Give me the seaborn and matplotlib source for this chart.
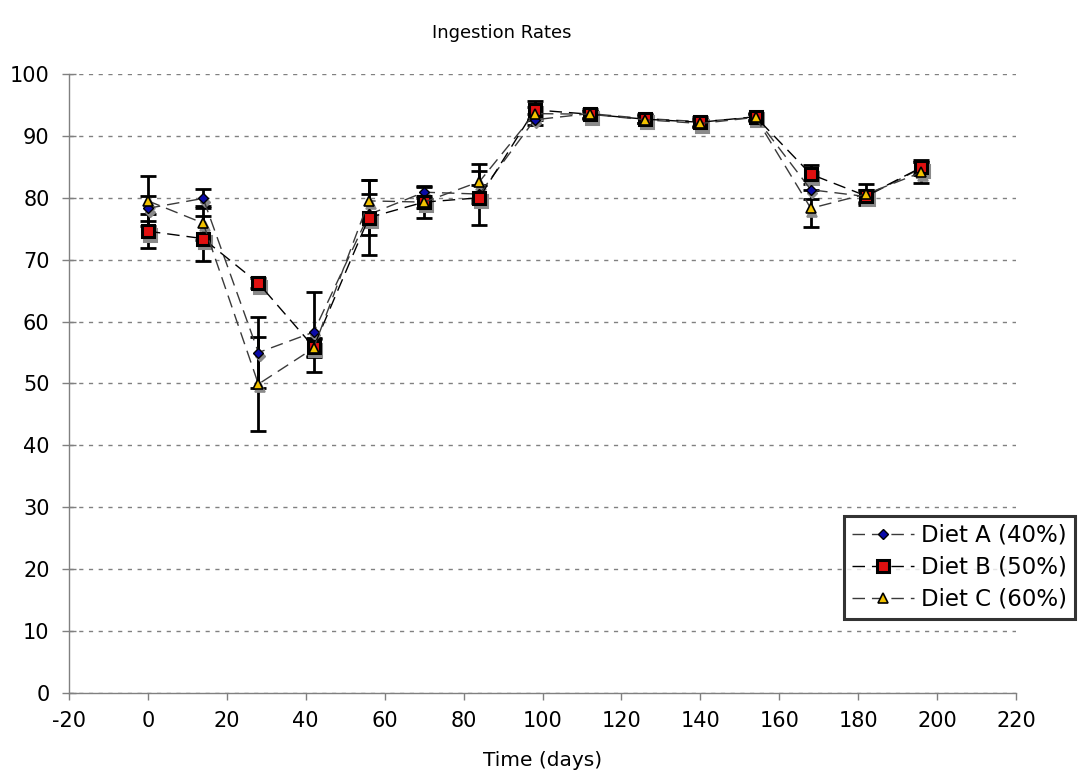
import numpy as np
import pandas as pd
import matplotlib
matplotlib.use("Agg")
import matplotlib.pyplot as plt
import matplotlib.transforms as mtransforms
import seaborn as sns

# Sampling days
days = [0, 14, 28, 42, 56, 70, 84, 98, 112, 126, 140, 154, 168, 182, 196]

# Mean ingestion rate per diet
diet_a = [78.3, 79.9, 55.0, 58.3, 77.3, 80.9, 80.6, 92.6, 93.6, 92.8, 92.3, 93.0, 81.3, 80.2, 84.8]
diet_b = [74.6, 73.4, 66.2, 55.9, 76.8, 79.3, 80.0, 94.2, 93.5, 92.7, 92.2, 93.1, 83.8, 80.3, 84.9]
diet_c = [79.5, 75.9, 49.9, 55.7, 79.5, 79.3, 82.6, 93.6, 93.5, 92.6, 92.0, 93.0, 78.3, 80.6, 84.1]

# Standard errors
err_a = [2.0, 1.5, 5.8, 6.5, 3.3, 1.0, 1.5, 0.9, 0.8, 0.8, 0.8, 0.6, 1.5, 1.0, 1.0]
err_b = [2.7, 3.6, 0.8, 1.5, 6.0, 2.5, 4.4, 1.4, 0.6, 0.6, 0.6, 0.6, 1.5, 1.0, 1.2]
err_c = [4.0, 2.7, 7.6, 1.5, 3.3, 1.0, 2.9, 1.0, 0.6, 0.6, 0.6, 0.5, 3.0, 1.7, 1.7]

labels = ["Diet A (40%)", "Diet B (50%)", "Diet C (60%)"]

sns.set_theme(style="white")
plt.rcParams["font.family"] = ["DejaVu Sans"]
plt.rcParams["axes.unicode_minus"] = False
plt.rcParams["text.color"] = "black"
plt.rcParams["axes.labelcolor"] = "black"
plt.rcParams["xtick.color"] = "black"
plt.rcParams["ytick.color"] = "black"

rows = []
for lab, vals, errs in zip(labels, [diet_a, diet_b, diet_c], [err_a, err_b, err_c]):
    for d, v, e in zip(days, vals, errs):
        rows.append({"day": d, "rate": v, "err": e, "diet": lab})
df = pd.DataFrame(rows)

fig = plt.figure(figsize=(10.78, 7.82), dpi=100)
ax = fig.add_axes([0.064, 0.1138, 0.8785, 0.7916])

styles = {
    "Diet A (40%)": dict(marker="D", ms=5.5, mfc="#0a0aa8", mec="black", mew=1.0, lc="#3a3a3a"),
    "Diet B (50%)": dict(marker="s", ms=8.0, mfc="#e01010", mec="black", mew=2.2, lc="black"),
    "Diet C (60%)": dict(marker="^", ms=6.5, mfc="#f2c200", mec="black", mew=1.2, lc="#3a3a3a"),
}

# error bars below everything else
for lab in labels:
    sub = df[df["diet"] == lab]
    ax.errorbar(sub["day"], sub["rate"], yerr=sub["err"], fmt="none",
                ecolor="black", elinewidth=2, capsize=6, capthick=2, zorder=2)

shadow = mtransforms.offset_copy(ax.transData, fig=fig, x=1.2, y=-2.4, units="points")

for lab in labels:
    sub = df[df["diet"] == lab]
    st = styles[lab]
    # drop shadow under markers
    ax.plot(sub["day"], sub["rate"], linestyle="none", marker=st["marker"],
            ms=st["ms"], mfc="#8a8a8a", mec="#8a8a8a", mew=st["mew"],
            transform=shadow, zorder=2.5)
    sns.lineplot(data=sub, x="day", y="rate", ax=ax, label=lab,
                 color=st["lc"], lw=1.0, dashes=False, linestyle=(0, (9, 5)),
                 marker=st["marker"], markersize=st["ms"],
                 markerfacecolor=st["mfc"], markeredgecolor=st["mec"],
                 markeredgewidth=st["mew"], zorder=3, errorbar=None)

ax.set_xlim(-20, 220)
ax.set_ylim(0, 100)
ax.set_xticks(np.arange(-20, 221, 20))
ax.set_yticks(np.arange(0, 101, 10))
ax.tick_params(axis="both", which="major", labelsize=15, labelcolor="black",
               width=1, color="#808080", bottom=True, left=True)
ax.tick_params(axis="x", direction="out", length=5, pad=8)
ax.tick_params(axis="y", direction="inout", length=10, pad=9)

for s in ["top", "right"]:
    ax.spines[s].set_visible(False)
for s in ["left", "bottom"]:
    ax.spines[s].set_color("#808080")
    ax.spines[s].set_linewidth(1.0)

ax.yaxis.grid(True, color="#808080", linestyle=(0, (3, 4)), linewidth=1.0)
ax.xaxis.grid(False)
ax.set_axisbelow(True)

ax.set_xlabel("Time (days)", fontsize=14.5, labelpad=14, color="black")
ax.set_ylabel("")
fig.text(502 / 1078, 1 - 33 / 782, "Ingestion Rates", ha="center", va="center",
         fontsize=13, color="black")

leg = ax.legend(loc="lower right", bbox_to_anchor=(1075 / 1078, 1 - 619 / 782),
                bbox_transform=fig.transFigure, fontsize=16.5, frameon=True,
                fancybox=False, borderaxespad=0, handlelength=2.7,
                handletextpad=0.3, borderpad=0.35, labelspacing=0.4)
leg.get_frame().set_edgecolor("black")
leg.get_frame().set_linewidth(2.2)
for t in leg.get_texts():
    t.set_color("black")

fig.savefig("out.png", dpi=100)
